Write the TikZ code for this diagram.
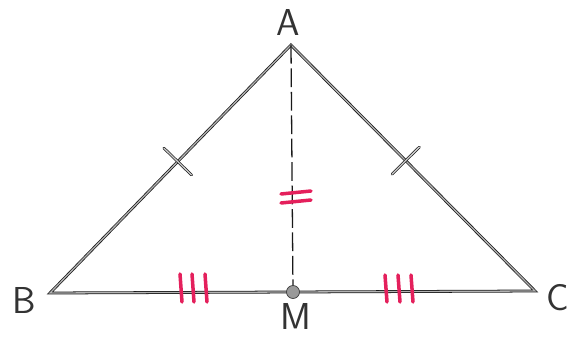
\documentclass[tikz,border=0pt]{standalone}
\usetikzlibrary{calc,positioning}
\definecolor{markpink}{RGB}{228,32,92}

\begin{document}
\begin{tikzpicture}[x=0.03cm, y=-0.03cm,
  edge/.style={draw=black!90, line width=0.65pt, double=black!30, double distance=1.1pt, line join=miter},
  tickmark/.style={draw=black!90, line width=0.6pt, double=black!20, double distance=1.1pt, line cap=round},
  pinkmark/.style={draw=markpink, line width=3pt, line cap=round},
  lbl/.style={font=\sffamily\fontsize{32}{32}\selectfont, text=black!80}]
  \useasboundingbox (0,0) rectangle (574,337);
  \coordinate (A) at (291,45);
  \coordinate (B) at (50,293);
  \coordinate (C) at (535,291);
  \coordinate (M) at (293,292);
  \draw[edge] (B) -- (A) -- (C) -- cycle;
  \draw[black!90, line width=1.1pt, dash pattern=on 16pt off 4pt] (A) -- (M);
  \coordinate (tab) at ($(B)!0.53!(A)$);
  \coordinate (tac) at ($(A)!0.47!(C)$);
  \draw[tickmark] ($(tab)!0.58cm!90:(A)$) -- ($(tab)!0.58cm!-90:(A)$);
  \draw[tickmark] ($(tac)!0.58cm!90:(C)$) -- ($(tac)!0.58cm!-90:(C)$);
  \draw[pinkmark] (281,194) -- (311,191);
  \draw[pinkmark] (281,203) -- (311,200);
  \foreach \x in {180,192,205}
    \draw[pinkmark] (\x,274) -- (\x+2,302);
  \foreach \x in {385,398,411}
    \draw[pinkmark] (\x,275) -- (\x+2,302);
  \filldraw[fill=black!40, draw=black!75, line width=0.6pt] (M) circle (6.5);
  \node[lbl] (la) at (288,22) {A};
  \node[lbl] (lb) at (24,300) {B};
  \node[lbl] (lc) at (558,298) {C};
  \node[lbl] (lm) at (296,316) {M};
\end{tikzpicture}
\end{document}
